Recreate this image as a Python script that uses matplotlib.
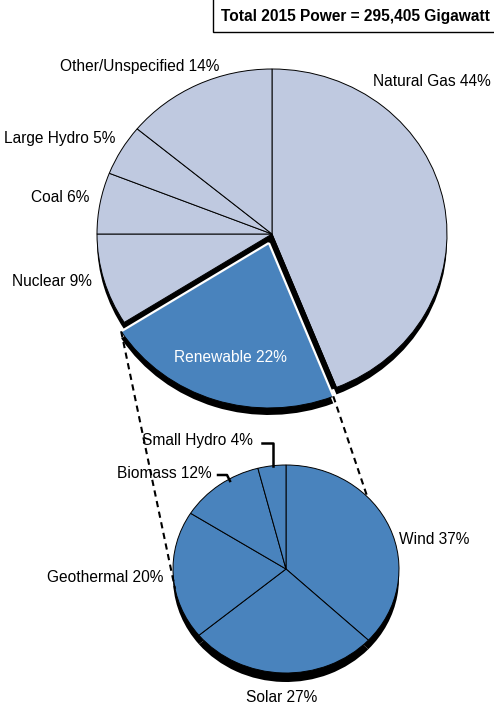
import numpy as np
import matplotlib
matplotlib.use('Agg')
import matplotlib.pyplot as plt
from matplotlib.patches import Rectangle
from matplotlib.transforms import Affine2D

plt.rcParams['font.family'] = ['Liberation Sans', 'DejaVu Sans']

# ---- data ----
main_labels = ['Natural Gas', 'Renewable', 'Nuclear', 'Coal', 'Large Hydro', 'Other/Unspecified']
main_values = [44, 22, 9, 6, 5, 14]
renew_labels = ['Wind', 'Solar', 'Geothermal', 'Biomass', 'Small Hydro']
renew_values = [37, 27, 20, 12, 4]
title_text = 'Total 2015 Power = 295,405 Gigawatt'

# ---- layout ----
W, H = 494, 707
fig = plt.figure(figsize=(W / 100, H / 100), dpi=100)
ax = fig.add_axes([0, 0, 1, 1])


def Y(py):
    return H - py


LIGHT = '#BFC9E0'
BLUE = '#4983BD'
FS = 11.2

big_c = (272, Y(234))
big_r = 175
big_s = 165 / 175
small_c = (286, Y(569))
small_r = 113
small_s = 104 / 113
ri = main_labels.index('Renewable')
explode = [10 if i == ri else 0 for i in range(len(main_values))]
common = dict(startangle=90, counterclock=False)


def squash(cx, cy, s):
    return Affine2D().translate(-cx, -cy).scale(1, s).translate(cx, cy)


def draw_pie(values, center, radius, s, colors, expl=None, **wp):
    wedges, _ = ax.pie(values, radius=radius, center=center, explode=expl,
                       colors=colors, wedgeprops=wp, **common)
    tr = squash(center[0], center[1], s)
    for w in wedges:
        w.set_transform(tr + ax.transData)
    return wedges, tr


# shadow of main pie (incl. exploded slice)
draw_pie(main_values, (big_c[0], big_c[1] - 7), big_r, big_s, ['black'] * len(main_values),
         explode, linewidth=0)
# main pie, hole of renewable slice drawn black
cols = ['black' if i == ri else LIGHT for i in range(len(main_values))]
draw_pie(main_values, big_c, big_r, big_s, cols, None, edgecolor='black', linewidth=0.7)
# exploded renewable slice
wedges, tr = draw_pie(main_values, big_c, big_r, big_s, [BLUE] * len(main_values), explode,
                      edgecolor='black', linewidth=0.7)
for i, w in enumerate(wedges):
    if i != ri:
        w.set_visible(False)
rw = wedges[ri]
rc = tr.transform(np.array(rw.center))
corners = []
for th in (rw.theta1, rw.theta2):
    p = np.array(rw.center) + rw.r * np.array([np.cos(np.radians(th)), np.sin(np.radians(th))])
    p = tr.transform(p)
    corners.append(p)
    ax.plot([rc[0], p[0]], [rc[1], p[1]], color='white', lw=1.6, solid_capstyle='butt', zorder=5)

# small pie: shadow then pie
draw_pie(renew_values, (small_c[0], small_c[1] - 9), small_r, small_s,
         ['black'] * len(renew_values), None, linewidth=0)
draw_pie(renew_values, small_c, small_r, small_s, [BLUE] * len(renew_values), None,
         edgecolor='black', linewidth=0.7)

# dashed connectors between renewable slice and small pie
for p, ang in zip(corners, (191, 44)):
    q = np.array(small_c) + small_r * np.array([np.cos(np.radians(ang)),
                                                small_s * np.sin(np.radians(ang))])
    ax.plot([p[0], q[0]], [p[1], q[1]], color='black', lw=1.5, dashes=(3, 2.2), zorder=6)

# labels
main_pos = {'Natural Gas': (432, 82), 'Renewable': (230, 357), 'Nuclear': (52, 281),
            'Coal': (60, 198), 'Large Hydro': (60, 138), 'Other/Unspecified': (140, 66)}
for lab, v in zip(main_labels, main_values):
    x, y = main_pos[lab]
    ax.text(x, Y(y), f'{lab} {v}%', ha='center', va='center', fontsize=FS,
            color='white' if lab == 'Renewable' else 'black', zorder=7)

small_pos = {'Wind': (434, 540), 'Solar': (282, 697), 'Geothermal': (105, 577),
             'Biomass': (164, 474), 'Small Hydro': (197, 441)}
for lab, v in zip(renew_labels, renew_values):
    x, y = small_pos[lab]
    ax.text(x, Y(y), f'{lab} {v}%', ha='center', va='center', fontsize=FS, zorder=7)

# leader lines for small slices
ax.plot([262, 273, 273], [Y(443), Y(443), Y(466)], color='black', lw=1.8, zorder=7)
ax.plot([218, 227, 230], [Y(475), Y(475), Y(481)], color='black', lw=1.8, zorder=7)

# title box
ax.add_patch(Rectangle((213, Y(32)), 400, 60, facecolor='white', edgecolor='black', lw=1, zorder=8))
ax.text(221, Y(16), title_text, ha='left', va='center', fontsize=FS, fontweight='bold',
        zorder=9, clip_on=True)

ax.set_xlim(0, W)
ax.set_ylim(0, H)
ax.set_aspect('auto')
ax.axis('off')
fig.savefig('out.png', dpi=100)
